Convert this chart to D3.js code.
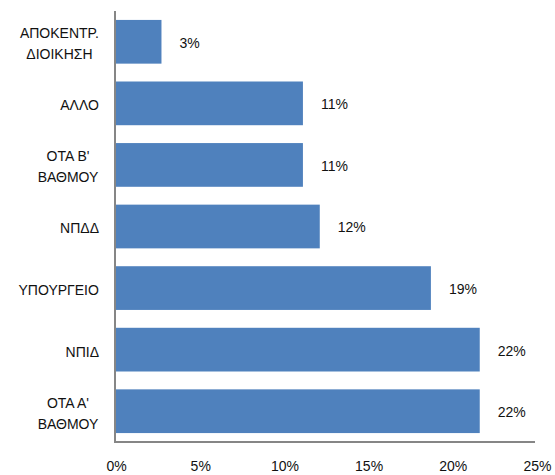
<!DOCTYPE html>
<html>
<head>
<meta charset="utf-8">
<script src="https://cdn.jsdelivr.net/npm/d3@7"></script>
<style>
  body { margin: 0; background: #fff; }
  text { font-family: "Liberation Sans", Arial, sans-serif; fill: #111; }
</style>
</head>
<body>
<div id="container"></div>
<script>
const width = 555;
const height = 475;

// categories top to bottom, label lines split with "\n"
const categories = ["ΑΠΟΚΕΝΤΡ.\nΔΙΟΙΚΗΣΗ", "ΑΛΛΟ", "ΟΤΑ Β'\nΒΑΘΜΟΥ", "ΝΠΔΔ", "ΥΠΟΥΡΓΕΙΟ", "ΝΠΙΔ", "ΟΤΑ Α'\nΒΑΘΜΟΥ"];
const values = [2.7, 11.1, 11.1, 12.1, 18.7, 21.6, 21.6];
const valueLabels = ["3%", "11%", "11%", "12%", "19%", "22%", "22%"];
const xTicks = [0, 5, 10, 15, 20, 25];

const fontSize = 14;

const x = d3.scaleLinear().domain([0, 25]).range([116, 537]);
const y = d3.scaleBand().domain(categories).range([11, 442])
  .paddingInner(0.29).paddingOuter(0.145);

const svg = d3.select("#container")
  .append("svg")
  .attr("width", width)
  .attr("height", height);

// bars
svg.append("g")
  .selectAll("rect")
  .data(categories)
  .join("rect")
  .attr("x", x(0))
  .attr("y", d => y(d))
  .attr("width", (d, i) => x(values[i]) - x(0))
  .attr("height", y.bandwidth())
  .attr("fill", "#4F81BD");

// value labels
svg.append("g")
  .selectAll("text")
  .data(categories)
  .join("text")
  .attr("x", (d, i) => x(values[i]) + 18)
  .attr("y", d => y(d) + y.bandwidth() / 2 + 1)
  .attr("dy", "0.35em")
  .attr("font-size", fontSize)
  .text((d, i) => valueLabels[i]);

// category labels: lines centred on each other, block right-aligned
const labelRight = 99;
const lineGap = 21;
categories.forEach(c => {
  const lines = c.split("\n");
  const g = svg.append("g");
  const cy = y(c) + y.bandwidth() / 2 + 2;
  lines.forEach((l, k) => g.append("text")
    .attr("x", 0)
    .attr("y", cy + (k - (lines.length - 1) / 2) * lineGap)
    .attr("dy", "0.35em")
    .attr("font-size", fontSize)
    .attr("text-anchor", "middle")
    .text(l));
  const bb = g.node().getBBox();
  g.attr("transform", `translate(${labelRight - (bb.x + bb.width)},0)`);
});

// x axis
const xAxis = svg.append("g")
  .attr("transform", "translate(0,442)")
  .call(d3.axisBottom(x).tickValues(xTicks).tickSize(0).tickFormat(d => d + "%"));
xAxis.select(".domain").attr("stroke", "#868686").attr("stroke-width", 2)
  .attr("d", `M${x(0) - 1},0H${x(25) - 2}`);
xAxis.selectAll("text")
  .attr("font-size", fontSize)
  .attr("font-family", "Liberation Sans, Arial, sans-serif")
  .attr("fill", "#111")
  .attr("y", 24)
  .attr("dy", "0.35em");

// y axis line
svg.append("line")
  .attr("x1", x(0) - 1).attr("x2", x(0) - 1)
  .attr("y1", 11).attr("y2", 443)
  .attr("stroke", "#868686")
  .attr("stroke-width", 2);
</script>
</body>
</html>
